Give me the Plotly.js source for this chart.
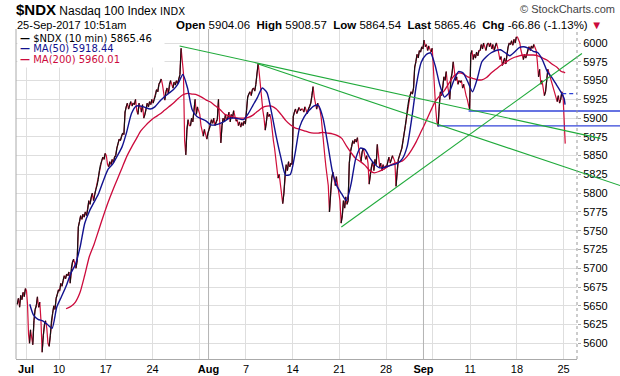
<!DOCTYPE html>
<html>
<head>
<meta charset="utf-8">
<script src="https://cdn.plot.ly/plotly-3.0.1.min.js"></script>
<style>
html,body{margin:0;padding:0;background:#fff;overflow:hidden;}
#chart{width:620px;height:376px;}
</style>
</head>
<body>
<div id="chart"></div>
<script>
// ---------------- data ----------------
const sessionDates = ['Jun 30','Jul 3','Jul 5','Jul 6','Jul 7','Jul 10','Jul 11','Jul 12','Jul 13','Jul 14',
 'Jul 17','Jul 18','Jul 19','Jul 20','Jul 21','Jul 24','Jul 25','Jul 26','Jul 27','Jul 28','Jul 31',
 'Aug 1','Aug 2','Aug 3','Aug 4','Aug 7','Aug 8','Aug 9','Aug 10','Aug 11','Aug 14','Aug 15','Aug 16','Aug 17','Aug 18',
 'Aug 21','Aug 22','Aug 23','Aug 24','Aug 25','Aug 28','Aug 29','Aug 30','Aug 31','Sep 1',
 'Sep 5','Sep 6','Sep 7','Sep 8','Sep 11','Sep 12','Sep 13','Sep 14','Sep 15','Sep 18','Sep 19','Sep 20','Sep 21','Sep 22',
 'Sep 25','Sep 26','Sep 27','Sep 28','Sep 29','Oct 2','Oct 3'];
const barsPerSession = 39;            // 10-minute bars in a full session
const shortSessionBars = {'Jul 3': 21}; // half day
const lastSessionBarsTraded = 8;      // Sep 25 up to 10:51am

const priceBySession = [
 [5652,5660,5648,5664,5658,5668,5662,5673],
 [5670,5652,5612,5600,5618],
 [5605,5598,5630,5645,5650,5662,5648,5655],
 [5630,5588,5610,5625,5630,5620,5600,5596],
 [5610,5630,5640,5650,5645,5660,5665,5671],
 [5670,5680,5676,5684,5690,5686,5692,5690],
 [5695,5680,5700,5708,5712,5705,5700,5710],
 [5755,5762,5770,5765,5772,5768,5775,5770],
 [5778,5790,5785,5795,5800,5790,5798,5805],
 [5810,5818,5830,5838,5843,5848,5845,5853],
 [5850,5838,5835,5842,5838,5845,5840,5848],
 [5850,5860,5866,5872,5870,5876,5880,5878],
 [5908,5915,5920,5912,5918,5922,5916,5920],
 [5918,5925,5910,5905,5920,5915,5908,5918],
 [5900,5905,5912,5920,5915,5922,5918,5925],
 [5920,5925,5930,5938,5935,5945,5948,5952],
 [5945,5930,5924,5935,5940,5932,5945,5950],
 [5945,5940,5948,5944,5950,5946,5952,5958],
 [5993,5980,5960,5870,5851,5885,5898,5890],
 [5890,5900,5895,5910,5925,5905,5915,5910],
 [5905,5890,5880,5876,5885,5878,5872,5880],
 [5885,5890,5898,5893,5900,5890,5895,5898],
 [5925,5885,5867,5890,5900,5895,5905,5898],
 [5900,5908,5895,5905,5900,5910,5902,5896],
 [5898,5890,5895,5888,5894,5890,5896,5892],
 [5910,5928,5932,5935,5930,5938,5940,5936],
 [5945,5960,5973,5958,5940,5925,5910,5900],
 [5884,5895,5908,5902,5905,5898,5880,5870],
 [5860,5845,5830,5820,5825,5810,5800,5786],
 [5800,5825,5838,5830,5842,5835,5840,5838],
 [5902,5908,5912,5906,5910,5914,5910,5912],
 [5912,5908,5915,5910,5906,5912,5915,5920],
 [5930,5942,5928,5918,5912,5920,5915,5910],
 [5900,5880,5866,5850,5835,5825,5810,5775],
 [5800,5820,5828,5815,5810,5822,5812,5800],
 [5790,5760,5770,5790,5780,5795,5785,5790],
 [5840,5855,5862,5870,5866,5872,5868,5874],
 [5860,5850,5842,5855,5860,5852,5845,5850],
 [5840,5812,5825,5835,5842,5830,5845,5838],
 [5865,5845,5835,5840,5830,5838,5832,5836],
 [5835,5842,5848,5840,5845,5850,5846,5842],
 [5809,5830,5845,5850,5855,5860,5870,5880],
 [5890,5902,5915,5925,5930,5935,5932,5940],
 [5968,5975,5985,5980,5990,5988,5995,5992],
 [6004,5995,5998,5990,5996,5992,5988,5993],
 [5960,5935,5912,5895,5889,5915,5935,5930],
 [5940,5955,5950,5962,5945,5935,5925,5952],
 [5960,5975,5965,5950,5955,5945,5950,5948],
 [5950,5940,5945,5935,5930,5925,5915,5911],
 [5985,5990,5978,5985,5980,5988,5983,5990],
 [5990,5998,5992,6000,5995,5990,5998,6000],
 [5995,6000,5992,5998,5990,5996,6000,5994],
 [5985,5978,5982,5970,5975,5980,5972,5985],
 [5995,6000,5998,6003,5997,6005,6000,6008],
 [6008,6004,6000,5990,5982,5978,5985,5980],
 [5985,5992,5995,5990,5996,5993,5998,5994],
 [5990,5975,5955,5965,5945,5950,5940,5930],
 [5935,5950,5965,5960,5955,5948,5945,5940],
 [5935,5928,5922,5930,5920,5925,5935,5930],
 [5905,5880,5866]
];

const ma50BySession = [
 [null,null],[null,5652],[5638,5632],[5630,5625],[5620,5648],[5662,5676],[5693,5705],[5728,5760],[5776,5788],[5800,5817],
 [5832,5839],[5850,5862],[5882,5906],[5916,5916],[5914,5912],[5915,5922],[5928,5933],[5938,5946],[5958,5940],[5911,5902],[5899,5896],
 [5891,5891],[5893,5896],[5900,5900],[5899,5898],[5906,5917],[5928,5940],[5934,5907],[5875,5847],[5824,5825],[5852,5888],[5902,5910],[5916,5917],[5900,5866],[5829,5809],
 [5799,5790],[5812,5846],[5860,5858],[5847,5839],[5834,5834],[5836,5838],[5840,5846],[5862,5900],[5945,5974],[5984,5987],
 [5970,5944],[5928,5934],[5950,5962],[5960,5948],[5935,5952],[5975,5982],[5987,5990],[5991,5987],[5983,5988],[5994,5995],[5993,5989],[5987,5977],[5962,5954],[5944,5934],
 [5926,5918]
];

const ma200BySession = [
 [null,null],[null,null],[null,null],[null,null],[null,null],[null,5646],[5649,5655],[5668,5691],[5716,5732],[5751,5770],
 [5788,5804],[5819,5834],[5849,5861],[5872,5883],[5890,5896],[5901,5905],[5910,5915],[5920,5926],[5931,5933],[5932,5931],[5928,5924],
 [5921,5916],[5911,5905],[5903,5901],[5900,5900],[5901,5904],[5909,5914],[5916,5916],[5912,5905],[5897,5891],[5887,5885],[5883,5881],[5880,5880],[5881,5880],[5879,5877],
 [5873,5863],[5854,5846],[5842,5837],[5830,5827],[5829,5832],[5836,5839],[5841,5843],[5849,5858],[5869,5882],[5895,5909],
 [5922,5930],[5937,5947],[5956,5960],[5959,5955],[5953,5951],[5951,5954],[5960,5965],[5970,5974],[5978,5981],[5983,5984],[5984,5984],[5983,5980],[5977,5972],[5968,5962],
 [5961,5960]
];

const xTickDates  = ['Jul 3','Jul 10','Jul 17','Jul 24','Jul 31','Aug 1','Aug 7','Aug 14','Aug 21','Aug 28','Sep 1','Sep 5','Sep 11','Sep 18','Sep 25'];
const xTickLabels = ['<b>Jul</b>','10','17','24','','<b>Aug</b>','7','14','21','28','<b>Sep</b>','','11','18','25'];
const monthStartDates = ['Aug 1','Sep 1'];
const yTickValues = [5600,5625,5650,5675,5700,5725,5750,5775,5800,5825,5850,5875,5900,5925,5950,5975,6000];

// trend lines: [date, fraction of session, value]
const trendLines = [
 [['Jul 26',0.90,5996],['Sep 28',0.93,5873]],
 [['Aug 8',0.32,5972],['Oct 3',0.07,5810]],
 [['Aug 21',0.21,5755],['Sep 26',0.96,5986]]
];
const supportLevels = [
 [['Sep 5',0.51,5889.5],['Oct 3',0.07,5889.5]],
 [['Sep 8',0.83,5909.4],['Oct 3',0.07,5909.4]]
];
const projectionLevel = [['Sep 22',0.85,5932.5],['Sep 27',0.5,5932.5]];

const legendLabels = ['$NDX (10 min) 5865.46','MA(50) 5918.44','MA(200) 5960.01'];
const legendColors = ['#000000','#12128f','#cc0a3c'];
const quoteLabels = ['Open','High','Low','Last','Chg'];
const quoteValues = ['5904.06','5908.57','5864.54','5865.46','-66.86 (-1.13%)'];

// ---------------- build ----------------
const start = {}, span = {};
let cum = -1;
sessionDates.forEach(d => {
  const b = (shortSessionBars[d] || barsPerSession) / barsPerSession;
  start[d] = cum; span[d] = b; cum += b;
});
const pos = (date, frac) => start[date] + frac * span[date];
const covered = i => (i === priceBySession.length - 1) ? lastSessionBarsTraded / barsPerSession : span[sessionDates[i]];

const px = [], py = [];
priceBySession.forEach((vals, i) => {
  const d = sessionDates[i], c = covered(i);
  vals.forEach((v, j) => { px.push(start[d] + (j + 0.5) / vals.length * c); py.push(v); });
});
const upX = [], upY = [];
for (let k = 0; k < py.length - 1; k++) {
  if (py[k + 1] > py[k]) { upX.push(px[k], px[k + 1], null); upY.push(py[k], py[k + 1], null); }
}
function maSeries(arr) {
  const x = [], y = [];
  arr.forEach((vals, i) => {
    const d = sessionDates[i], c = covered(i);
    vals.forEach((v, j) => { if (v !== null) { x.push(start[d] + (j === 0 ? 0.25 : 0.75) * c); y.push(v); } });
  });
  return {x, y};
}
const ma50 = maSeries(ma50BySession), ma200 = maSeries(ma200BySession);

const xRange = [-1.07, 58.97];
const xDomainEnd = 561 / 604;
const yRange = [5579.1, 6018.65];

const traces = [];
// darker month-start grid lines
monthStartDates.forEach(d => traces.push({x: [pos(d, 0), pos(d, 0)], y: yRange, type: 'scatter', mode: 'lines',
  line: {color: '#b4b4b4', width: 1}, hoverinfo: 'skip'}));
traces.push(
  {x: px, y: py, type: 'scatter', mode: 'lines', line: {color: '#d0103a', width: 1.2}, hoverinfo: 'skip'},
  {x: upX, y: upY, type: 'scatter', mode: 'lines', line: {color: '#111', width: 1.2}, connectgaps: false, hoverinfo: 'skip'},
  {x: ma200.x, y: ma200.y, type: 'scatter', mode: 'lines', line: {color: '#cc0a3c', width: 1.3, shape: 'spline', smoothing: 0.6}, hoverinfo: 'skip'},
  {x: ma50.x, y: ma50.y, type: 'scatter', mode: 'lines', line: {color: '#12128f', width: 1.4, shape: 'spline', smoothing: 0.6}, hoverinfo: 'skip'},
  {x: projectionLevel.map(p => pos(p[0], p[1])), y: projectionLevel.map(p => p[2]), type: 'scatter', mode: 'lines',
   line: {color: '#2a3fd6', width: 1.3, dash: '4px,3px'}, hoverinfo: 'skip'}
);
supportLevels.forEach(l => traces.push({x: l.map(p => pos(p[0], p[1])), y: l.map(p => p[2]), xaxis: 'x2', yaxis: 'y2',
  type: 'scatter', mode: 'lines', line: {color: '#3344d8', width: 1.3}, hoverinfo: 'skip'}));
trendLines.forEach(l => traces.push({x: l.map(p => pos(p[0], p[1])), y: l.map(p => p[2]), xaxis: 'x2', yaxis: 'y2',
  type: 'scatter', mode: 'lines', line: {color: '#1faa3a', width: 1.1}, hoverinfo: 'skip'}));

const shapes = [
  {type: 'line', xref: 'paper', yref: 'paper', x0: 0, x1: 0, y0: 0, y1: 1, line: {color: '#aaa', width: 1}},
  {type: 'line', xref: 'paper', yref: 'paper', x0: xDomainEnd, x1: xDomainEnd, y0: 0, y1: 1, line: {color: '#999', width: 1, dash: 'dot'}}
];

const annotations = [];
// legend background box
annotations.push({xref: 'paper', yref: 'paper', x: 0.002, y: 1, xanchor: 'left', yanchor: 'top', showarrow: false,
  text: '\u00a0', width: 146, height: 37, bgcolor: '#fff', borderpad: 0, font: {size: 10}});
legendLabels.forEach((t, i) => annotations.push({
  xref: 'paper', yref: 'paper', x: 0.005, y: 0.9727 - i * 0.0333, xanchor: 'left', yanchor: 'middle', showarrow: false,
  borderpad: 0, text: '<b>\u2014</b> ' + t, font: {family: 'DejaVu Sans, Verdana, sans-serif', size: 10, color: legendColors[i]}
}));
annotations.push({xref: 'paper', yref: 'paper', x: -0.002, y: 1.0606, xanchor: 'left', yanchor: 'middle', showarrow: false,
  borderpad: 0,
  text: '<b><span style="font-size:15px">$NDX</span></b> Nasdaq 100 Index <span style="font-size:10px;font-family:DejaVu Sans">INDX</span>',
  font: {family: 'Liberation Sans Narrow, Arial Narrow, Liberation Sans, Arial', size: 12, color: '#000'}});
annotations.push({xref: 'paper', yref: 'paper', x: 0.9935, y: 1.0606, xanchor: 'right', yanchor: 'middle', showarrow: false,
  borderpad: 0, text: '\u00a9 StockCharts.com', font: {family: 'Liberation Sans, Arial', size: 11, color: '#444'}});
annotations.push({xref: 'paper', yref: 'paper', x: 0, y: 1.0136, xanchor: 'left', yanchor: 'middle', showarrow: false,
  borderpad: 0, text: '25-Sep-2017 10:51am', font: {family: 'Liberation Sans, Arial', size: 11, color: '#000'}});
annotations.push({xref: 'paper', yref: 'paper', x: 0.2632, y: 1.0136, xanchor: 'left', yanchor: 'middle', showarrow: false,
  borderpad: 0,
  text: quoteLabels.map((l, i) => '<b>' + l + '</b> ' + quoteValues[i]).join('  ') + ' <span style="color:#cc0a3c">\u25BC</span>',
  font: {family: 'Liberation Sans, Arial', size: 11.5, color: '#000'}});

const layout = {
  width: 620, height: 376,
  margin: {l: 16, r: 0, t: 29, b: 17},
  paper_bgcolor: '#fff', plot_bgcolor: 'rgba(0,0,0,0)',
  showlegend: false,
  xaxis: {domain: [0, xDomainEnd], range: xRange, tickmode: 'array',
    tickvals: xTickDates.map(d => pos(d, 0)), ticktext: xTickLabels,
    showgrid: true, gridcolor: '#dedede', gridwidth: 1, zeroline: false,
    showline: true, linecolor: '#aaa', linewidth: 1, ticks: '',
    tickfont: {family: 'Liberation Sans, Arial', size: 11, color: '#000'}, fixedrange: true},
  yaxis: {range: yRange, side: 'right', tickmode: 'array', tickvals: yTickValues, ticktext: yTickValues.map(String),
    showgrid: true, gridcolor: '#dedede', gridwidth: 1, zeroline: false, showline: false,
    ticks: 'outside', ticklen: 3, tickcolor: '#aaa',
    tickfont: {family: 'Liberation Sans, Arial', size: 11, color: '#000'}, fixedrange: true},
  xaxis2: {domain: [0, 1], range: [xRange[0], xRange[0] + (xRange[1] - xRange[0]) / xDomainEnd], anchor: 'y2', visible: false, fixedrange: true},
  yaxis2: {domain: [0, 1], range: yRange, anchor: 'x2', visible: false, fixedrange: true},
  shapes: shapes,
  annotations: annotations
};

Plotly.newPlot('chart', traces, layout, {staticPlot: true, displayModeBar: false});
</script>
</body>
</html>
